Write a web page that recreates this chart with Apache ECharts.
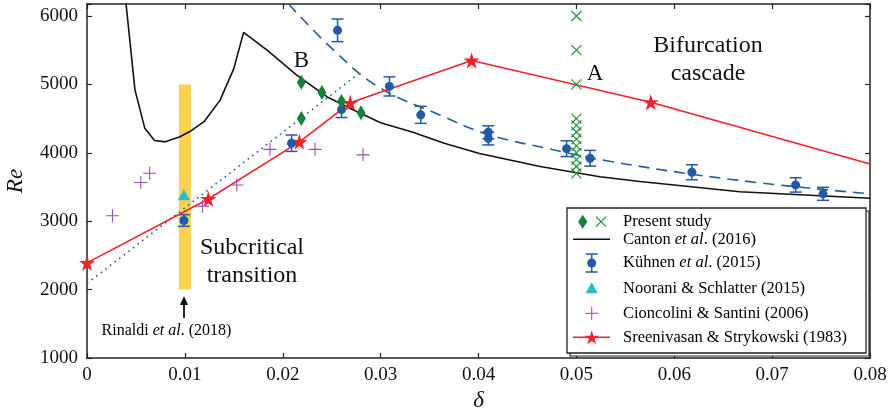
<!DOCTYPE html>
<html>
<head>
<meta charset="utf-8">
<script src="https://cdn.jsdelivr.net/npm/echarts@6/dist/echarts.min.js"></script>
<style>
  html, body { margin: 0; padding: 0; background: #fff; }
  #chart { width: 893px; height: 413px; }
</style>
</head>
<body>
<div id="chart"></div>
<script>
// ---- data ----
const deltaTicks = [0, 0.01, 0.02, 0.03, 0.04, 0.05, 0.06, 0.07, 0.08];
const reTicks = [1000, 2000, 3000, 4000, 5000, 6000];

// Present study: diamonds (delta, Re)
const presentDiamonds = [[0.0219, 5030], [0.0219, 4500], [0.0240, 4880], [0.0260, 4750], [0.0280, 4585]];
// Present study: crosses at delta = 0.05
const presentCrossDelta = 0.05;
const presentCrossRe = [6000, 5500, 5000, 4500, 4400, 4300, 4200, 4100, 4000, 3900, 3800, 3700];

// Canton et al. (2016) neutral curve
const cantonCurve = [
  [0.0039, 6300], [0.0049, 4920], [0.0059, 4360], [0.0069, 4180], [0.0080, 4160],
  [0.0095, 4235], [0.0105, 4310], [0.0120, 4460], [0.0136, 4770], [0.0150, 5230],
  [0.0160, 5760], [0.0184, 5500], [0.0214, 5140], [0.0245, 4820], [0.0276, 4600],
  [0.0300, 4440], [0.0333, 4300], [0.0365, 4140], [0.0401, 3990], [0.0463, 3800],
  [0.0524, 3650], [0.0565, 3580], [0.0667, 3430], [0.0800, 3335]
];

// Kühnen et al. (2015): delta, Re, error
const kuhnenDelta = [0.0099, 0.0209, 0.0256, 0.0260, 0.0309, 0.0341, 0.0410, 0.0410, 0.0490, 0.0514, 0.0618, 0.0724, 0.0752];
const kuhnenRe    = [3010, 4140, 5790, 4630, 4970, 4555, 4300, 4210, 4060, 3920, 3715, 3530, 3400];
const kuhnenErr   = [85, 120, 165, 115, 140, 125, 95, 95, 115, 115, 110, 105, 95];
// Kühnen et al. fits: dashed (high delta) and dotted (low delta)
const kuhnenFitDashed = [[0.0206, 6175], [0.0252, 5500], [0.0298, 4960], [0.0361, 4550], [0.0409, 4270],
                         [0.0470, 4065], [0.0534, 3875], [0.0664, 3600], [0.0800, 3400]];
const kuhnenFitDotted = [[0, 2090], [0.0277, 5150]];

// Noorani & Schlatter (2015)
const noorani = [[0.0099, 3385]];

// Cioncolini & Santini (2006)
const cioncolini = [[0.0026, 3080], [0.0055, 3565], [0.0064, 3700], [0.0118, 3220],
                    [0.0153, 3530], [0.0187, 4050], [0.0233, 4050], [0.0282, 3970]];

// Sreenivasan & Strykowski (1983); last entry is where the line leaves the frame
const sreenivasan = [[0, 2390], [0.0124, 3325], [0.0217, 4160], [0.0269, 4730], [0.0393, 5350], [0.0576, 4740]];
const sreenivasanEnd = [0.08, 3836];

// Rinaldi et al. (2018): delta and Re range of the subcritical band
const rinaldiBand = [0.01, 2000, 5000];

// ---- styles ----
const FONT = 'Liberation Serif';
const RED = '#f0232b';
const BLUE = '#2459a8';
const GREEN_D = '#17813a';
const GREEN_X = '#23913b';
const CYAN = '#22bfc8';
const PURPLE = '#9a4fb0';
const YELLOW = '#fdd24e';
const AXIS = '#222';

const diamond = 'path://M0,-1L0.6,0L0,1L-0.6,0Z';
const xMark = 'path://M0,0L1,1M1,0L0,1';
const plusMark = 'path://M0.5,0L0.5,1M0,0.5L1,0.5';
const starMark = 'path://M0,-1L0.2245,-0.309L0.951,-0.309L0.3633,0.118L0.5878,0.809L0,0.382L-0.5878,0.809L-0.3633,0.118L-0.951,-0.309L-0.2245,-0.309Z';

// five-pointed star outline for the legend icon
function starPoints(cx, cy, r) {
  const pts = [];
  for (let k = 0; k < 10; k++) {
    const rr = k % 2 === 0 ? r : r * 0.382;
    const a = -Math.PI / 2 + k * Math.PI / 5;
    pts.push([cx + rr * Math.cos(a), cy + rr * Math.sin(a)]);
  }
  return pts;
}

const chart = echarts.init(document.getElementById('chart'), null, { renderer: 'canvas' });

const axisCommon = {
  type: 'value',
  axisLine: { show: true, onZero: false, lineStyle: { color: AXIS, width: 1.5 } },
  axisTick: { show: true, inside: true, length: 5, lineStyle: { color: AXIS, width: 1.2 } },
  splitLine: { show: false }
};

const errorBarSeries = {
  type: 'custom',
  name: 'kuhnenErr',
  data: kuhnenDelta.map((d, i) => [d, kuhnenRe[i], kuhnenErr[i]]),
  renderItem: function (params, api) {
    const x = api.value(0), y = api.value(1), e = api.value(2);
    const top = api.coord([x, y + e]);
    const bot = api.coord([x, y - e]);
    const hw = 6;
    const st = { stroke: BLUE, lineWidth: 1.5 };
    return {
      type: 'group',
      children: [
        { type: 'line', shape: { x1: top[0], y1: top[1], x2: bot[0], y2: bot[1] }, style: st },
        { type: 'line', shape: { x1: top[0] - hw, y1: top[1], x2: top[0] + hw, y2: top[1] }, style: st },
        { type: 'line', shape: { x1: bot[0] - hw, y1: bot[1], x2: bot[0] + hw, y2: bot[1] }, style: st }
      ]
    };
  },
  z: 4
};

const bandSeries = {
  type: 'custom',
  name: 'rinaldi',
  data: [rinaldiBand],
  renderItem: function (params, api) {
    const d = api.value(0);
    const p1 = api.coord([d, api.value(2)]);
    const p0 = api.coord([d, api.value(1)]);
    const w = 12;
    return {
      type: 'rect',
      shape: { x: p1[0] - w / 2, y: p1[1], width: w, height: p0[1] - p1[1] },
      style: { fill: YELLOW }
    };
  },
  z: 1
};

function legendText(parts, x, y) {
  // parts: array of [text, italic]
  const rich = { n: { fontFamily: FONT, fontSize: 16.5, color: '#111' },
                 i: { fontFamily: FONT, fontSize: 16.5, fontStyle: 'italic', color: '#111' } };
  const text = parts.map(p => '{' + (p[1] ? 'i' : 'n') + '|' + p[0] + '}').join('');
  return { type: 'text', x: x, y: y, z: 101,
           style: { text: text, rich: rich, verticalAlign: 'middle', align: 'left' } };
}

const LX = 567, LY = 208, LW = 299, LH = 145;
const IC = 591.7, TX = 623;
const rows = [221.7, 239.3, 263, 288.3, 313.3, 337.3];

const graphics = [
  // legend frame with an offset outline behind it
  { type: 'rect', z: 99, shape: { x: LX + 3, y: LY + 3, width: LW, height: LH }, style: { fill: '#fff', stroke: '#222', lineWidth: 1.2 } },
  { type: 'rect', z: 100, shape: { x: LX, y: LY, width: LW, height: LH }, style: { fill: '#fff', stroke: '#222', lineWidth: 1.3 } },
  // Present study
  { type: 'polygon', z: 101, shape: { points: [[582.7, rows[0] - 7], [587.3, rows[0]], [582.7, rows[0] + 7], [578.1, rows[0]]] }, style: { fill: GREEN_D } },
  { type: 'line', z: 101, shape: { x1: 596, y1: rows[0] - 5, x2: 606, y2: rows[0] + 5 }, style: { stroke: GREEN_X, lineWidth: 1.2 } },
  { type: 'line', z: 101, shape: { x1: 596, y1: rows[0] + 5, x2: 606, y2: rows[0] - 5 }, style: { stroke: GREEN_X, lineWidth: 1.2 } },
  legendText([['Present study', false]], TX, rows[0]),
  // Canton
  { type: 'line', z: 101, shape: { x1: 573, y1: rows[1], x2: 610, y2: rows[1] }, style: { stroke: '#111', lineWidth: 1.6 } },
  legendText([['Canton ', false], ['et al', true], ['. (2016)', false]], TX, rows[1]),
  // Kühnen
  { type: 'line', z: 101, shape: { x1: IC, y1: rows[2] - 9, x2: IC, y2: rows[2] + 9 }, style: { stroke: BLUE, lineWidth: 1.5 } },
  { type: 'line', z: 101, shape: { x1: IC - 6, y1: rows[2] - 9, x2: IC + 6, y2: rows[2] - 9 }, style: { stroke: BLUE, lineWidth: 1.5 } },
  { type: 'line', z: 101, shape: { x1: IC - 6, y1: rows[2] + 9, x2: IC + 6, y2: rows[2] + 9 }, style: { stroke: BLUE, lineWidth: 1.5 } },
  { type: 'circle', z: 102, shape: { cx: IC, cy: rows[2], r: 4.5 }, style: { fill: BLUE } },
  legendText([['Kühnen ', false], ['et al', true], ['. (2015)', false]], TX, rows[2]),
  // Noorani
  { type: 'polygon', z: 101, shape: { points: [[IC, rows[3] - 6], [IC + 6, rows[3] + 5], [IC - 6, rows[3] + 5]] }, style: { fill: CYAN } },
  legendText([['Noorani & Schlatter (2015)', false]], TX, rows[3]),
  // Cioncolini
  { type: 'line', z: 101, shape: { x1: IC - 6.5, y1: rows[4], x2: IC + 6.5, y2: rows[4] }, style: { stroke: PURPLE, lineWidth: 1.1 } },
  { type: 'line', z: 101, shape: { x1: IC, y1: rows[4] - 6.5, x2: IC, y2: rows[4] + 6.5 }, style: { stroke: PURPLE, lineWidth: 1.1 } },
  legendText([['Cioncolini & Santini (2006)', false]], TX, rows[4]),
  // Sreenivasan
  { type: 'line', z: 101, shape: { x1: 573, y1: rows[5], x2: 610, y2: rows[5] }, style: { stroke: RED, lineWidth: 1.6 } },
  { type: 'polygon', z: 102, shape: { points: starPoints(IC, rows[5] + 0.8, 7.5) }, style: { fill: RED } },
  legendText([['Sreenivasan & Strykowski (1983)', false]], TX, rows[5]),

  // annotations
  { type: 'text', x: 301.5, y: 61, z: 50, style: { text: 'B', fontFamily: FONT, fontSize: 23, fill: '#111', align: 'center', verticalAlign: 'middle' } },
  { type: 'text', x: 595, y: 74, z: 50, style: { text: 'A', fontFamily: FONT, fontSize: 23, fill: '#111', align: 'center', verticalAlign: 'middle' } },
  { type: 'text', x: 708, y: 60, z: 50, style: { text: 'Bifurcation\ncascade', fontFamily: FONT, fontSize: 24, lineHeight: 28, fill: '#111', align: 'center', verticalAlign: 'middle' } },
  { type: 'text', x: 252, y: 262, z: 50, style: { text: 'Subcritical\ntransition', fontFamily: FONT, fontSize: 24, lineHeight: 28, fill: '#111', align: 'center', verticalAlign: 'middle' } },
  { type: 'text', x: 166.5, y: 331, z: 50,
    style: { text: '{n|Rinaldi }{i|et al}{n|. (2018)}', align: 'center', verticalAlign: 'middle',
             rich: { n: { fontFamily: FONT, fontSize: 16, color: '#111' },
                     i: { fontFamily: FONT, fontSize: 16, fontStyle: 'italic', color: '#111' } } } },
  // arrow pointing up to the band
  { type: 'line', z: 50, shape: { x1: 184, y1: 318, x2: 184, y2: 302 }, style: { stroke: '#111', lineWidth: 1.8 } },
  { type: 'polygon', z: 50, shape: { points: [[184, 296], [188, 305], [180, 305]] }, style: { fill: '#111' } }
];

const option = {
  animation: false,
  backgroundColor: '#fff',
  grid: { left: 87, right: 23, top: 4, bottom: 55, containLabel: false, outerBoundsMode: 'none' },
  xAxis: [
    Object.assign({}, axisCommon, {
      min: deltaTicks[0], max: deltaTicks[deltaTicks.length - 1], interval: 0.01, position: 'bottom',
      axisLabel: { fontFamily: FONT, fontSize: 19, color: '#111', margin: 8,
                   formatter: v => (deltaTicks.indexOf(Math.round(v * 100) / 100) >= 0 ? String(Math.round(v * 100) / 100) : '') },
      name: 'δ', nameLocation: 'middle', nameGap: 30,
      nameTextStyle: { fontFamily: FONT, fontSize: 23, fontStyle: 'italic', color: '#111' }
    }),
    Object.assign({}, axisCommon, {
      min: deltaTicks[0], max: deltaTicks[deltaTicks.length - 1], interval: 0.01, position: 'top',
      axisLabel: { show: false }
    })
  ],
  yAxis: [
    Object.assign({}, axisCommon, {
      min: reTicks[0], max: 6175, interval: 1000, position: 'left',
      axisLabel: { fontFamily: FONT, fontSize: 19, color: '#111', margin: 9,
                   formatter: v => (reTicks.indexOf(v) >= 0 ? String(v) : '') },
      name: 'Re', nameLocation: 'middle', nameGap: 60, nameRotate: 90,
      nameTextStyle: { fontFamily: FONT, fontSize: 23, fontStyle: 'italic', color: '#111' }
    }),
    Object.assign({}, axisCommon, {
      min: reTicks[0], max: 6175, interval: 1000, position: 'right',
      axisLabel: { show: false }
    })
  ],
  series: [
    bandSeries,
    {
      type: 'line', name: 'Canton et al. (2016)', data: cantonCurve, showSymbol: false, symbol: 'none',
      lineStyle: { color: '#111', width: 1.6 }, z: 3, clip: true
    },
    {
      type: 'line', name: 'kuhnenFitDashed', data: kuhnenFitDashed, smooth: 0.4, symbol: 'none',
      lineStyle: { color: BLUE, width: 1.6, type: [11, 7] }, z: 3, clip: true
    },
    {
      type: 'line', name: 'kuhnenFitDotted', data: kuhnenFitDotted, symbol: 'none',
      lineStyle: { color: BLUE, width: 1.6, type: [1.6, 4.2] }, z: 3, clip: true
    },
    {
      type: 'line', name: 'Sreenivasan & Strykowski (1983)',
      data: sreenivasan.concat([{ value: sreenivasanEnd, symbolSize: 0 }]),
      symbol: starMark, symbolSize: 16, showAllSymbol: true,
      lineStyle: { color: RED, width: 1.6 }, itemStyle: { color: RED, opacity: 1 }, z: 5, clip: true
    },
    errorBarSeries,
    {
      type: 'scatter', name: 'Kühnen et al. (2015)',
      data: kuhnenDelta.map((d, i) => [d, kuhnenRe[i]]),
      symbol: 'circle', symbolSize: 9, itemStyle: { color: BLUE, opacity: 1 }, z: 5
    },
    {
      type: 'scatter', name: 'Noorani & Schlatter (2015)', data: noorani,
      symbol: 'triangle', symbolSize: [12, 11], itemStyle: { color: CYAN, opacity: 1 }, z: 5
    },
    {
      type: 'scatter', name: 'Cioncolini & Santini (2006)', data: cioncolini,
      symbol: plusMark, symbolSize: 13,
      itemStyle: { color: 'transparent', borderColor: PURPLE, borderWidth: 1.1, opacity: 1 }, z: 5
    },
    {
      type: 'scatter', name: 'Present study (diamonds)', data: presentDiamonds,
      symbol: diamond, symbolSize: [9, 15], itemStyle: { color: GREEN_D, opacity: 1 }, z: 6
    },
    {
      type: 'scatter', name: 'Present study (crosses)',
      data: presentCrossRe.map(r => [presentCrossDelta, r]),
      symbol: xMark, symbolSize: 10,
      itemStyle: { color: 'transparent', borderColor: GREEN_X, borderWidth: 1.2, opacity: 1 }, z: 6
    }
  ],
  graphic: graphics
};

chart.setOption(option);
</script>
</body>
</html>
